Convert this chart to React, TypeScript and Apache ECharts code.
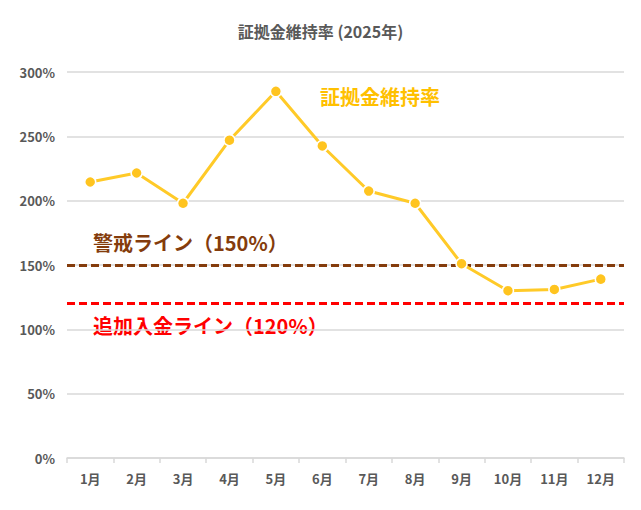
import React, { useEffect, useRef } from 'react';
import * as echarts from 'echarts';

const months = ['1月', '2月', '3月', '4月', '5月', '6月', '7月', '8月', '9月', '10月', '11月', '12月'];
const marginRatio = [214.5, 221.5, 198, 247, 285, 242.5, 207.5, 198, 151, 130, 131, 139];
const warningLevel = 150;
const marginCallLevel = 120;

const FONT = '"Noto Sans CJK JP", "Noto Sans", sans-serif';

const App: React.FC = () => {
    const chartRef = useRef<HTMLDivElement | null>(null);

    useEffect(() => {
        if (!chartRef.current) return;
        const chart = echarts.init(chartRef.current, undefined, { renderer: 'svg' });

        const option = {
            animation: false,
            textStyle: { fontFamily: FONT },
            title: {
                text: '証拠金維持率 (2025年)',
                left: 'center',
                top: 10,
                textStyle: { fontSize: 16, fontWeight: 'bold', color: '#595959', fontFamily: FONT },
            },
            grid: { left: 59, right: 9, top: 64, bottom: 44 },
            xAxis: {
                type: 'category',
                data: months,
                boundaryGap: true,
                axisLine: { lineStyle: { color: '#D9D9D9', width: 1.5 } },
                axisTick: { show: true, lineStyle: { color: '#D9D9D9', width: 1.5 }, length: 5 },
                axisLabel: { color: '#595959', fontSize: 13, fontWeight: 'bold', margin: 14 },
            },
            yAxis: {
                type: 'value',
                min: 0,
                max: 300,
                interval: 50,
                axisLine: { show: false },
                axisTick: { show: false },
                axisLabel: { formatter: '{value}%', color: '#595959', fontSize: 13, fontWeight: 'bold', margin: 12 },
                splitLine: { lineStyle: { color: '#D9D9D9', width: 1.5 } },
            },
            series: [
                {
                    name: '証拠金維持率',
                    type: 'line',
                    data: marginRatio,
                    symbol: 'circle',
                    symbolSize: 11,
                    lineStyle: { color: '#FFCA28', width: 3 },
                    itemStyle: { color: '#FFC41F', borderColor: '#FFFFFF', borderWidth: 1.5 },
                    z: 5,
                    markLine: {
                        silent: true,
                        symbol: 'none',
                        label: { show: false },
                        z: 3,
                        data: [
                            { yAxis: warningLevel, lineStyle: { color: '#843C0C', type: [8, 4], width: 3 } },
                            { yAxis: marginCallLevel, lineStyle: { color: '#FF0000', type: [8, 4], width: 3 } },
                        ],
                    },
                },
            ],
            graphic: [
                {
                    type: 'text',
                    left: 312,
                    top: 78,
                    style: { text: '証拠金維持率', fill: '#FFC000', fontSize: 20, fontWeight: 'bold', fontFamily: FONT },
                },
                {
                    type: 'text',
                    left: 85,
                    top: 224,
                    style: { text: '警戒ライン（150%）', fill: '#843C0C', fontSize: 20, fontWeight: 'bold', fontFamily: FONT },
                },
                {
                    type: 'text',
                    left: 85,
                    top: 307,
                    style: { text: '追加入金ライン（120%）', fill: '#FF0000', fontSize: 20, fontWeight: 'bold', fontFamily: FONT },
                },
            ],
        };

        chart.setOption(option);

        return () => {
            chart.dispose();
        };
    }, []);

    return <div ref={chartRef} style={{ width: '625px', height: '494px' }} />;
};

export default App;
